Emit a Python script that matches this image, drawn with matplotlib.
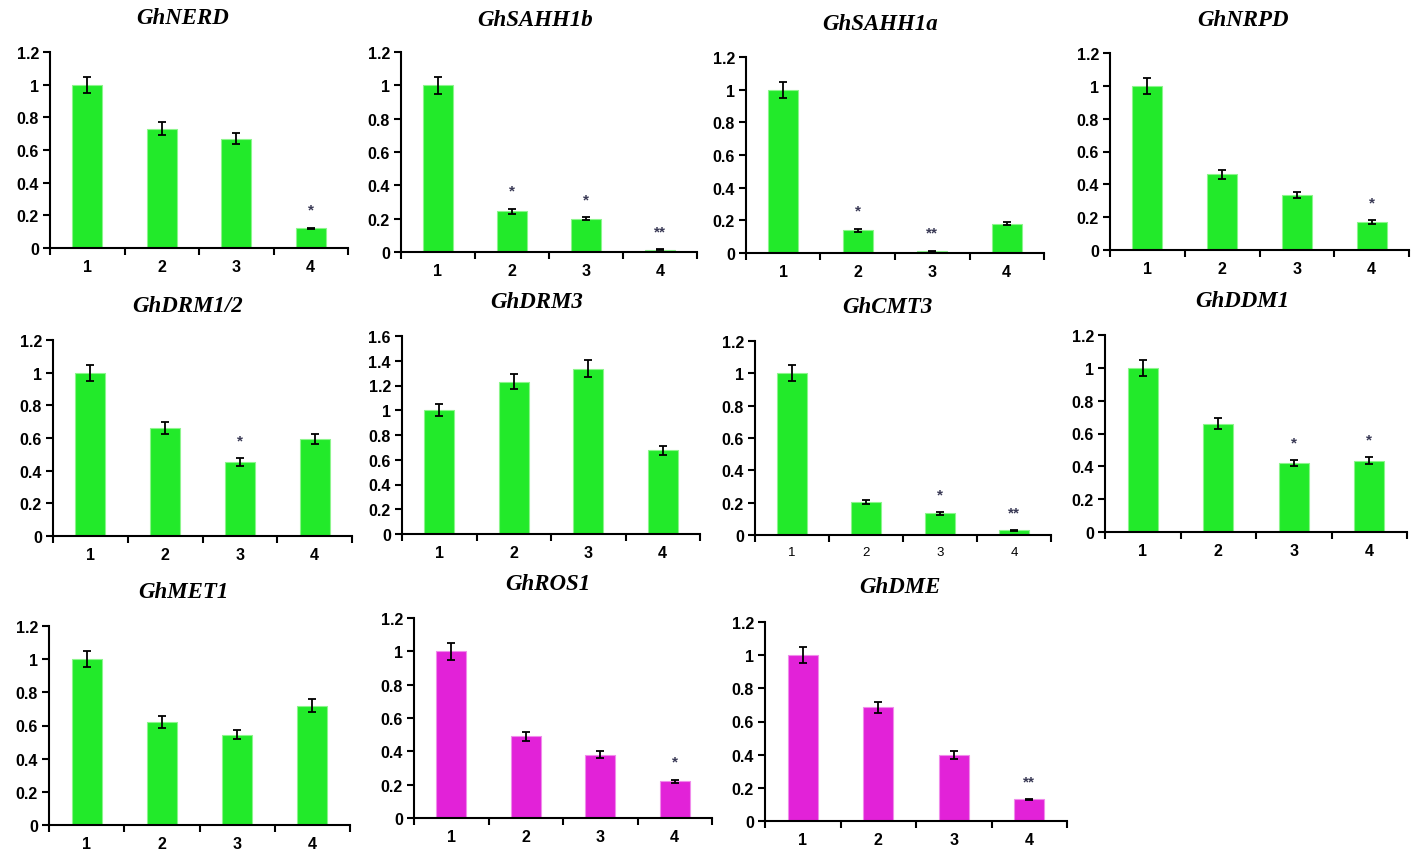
import matplotlib
matplotlib.use("Agg")
import matplotlib.pyplot as plt
from matplotlib.ticker import FixedLocator, FuncFormatter

# gene panels, in reading order
genes = ["GhNERD", "GhSAHH1b", "GhSAHH1a", "GhNRPD",
         "GhDRM1/2", "GhDRM3", "GhCMT3", "GhDDM1",
         "GhMET1", "GhROS1", "GhDME"]
samples = ["1", "2", "3", "4"]

nerd = [1.0, 0.73, 0.67, 0.12]
nerd_err = [0.05, 0.04, 0.035, 0.005]
sahh1b = [1.0, 0.245, 0.20, 0.015]
sahh1b_err = [0.05, 0.015, 0.01, 0.003]
sahh1a = [1.0, 0.14, 0.012, 0.18]
sahh1a_err = [0.05, 0.01, 0.003, 0.008]
nrpd = [1.0, 0.46, 0.335, 0.17]
nrpd_err = [0.05, 0.025, 0.02, 0.01]
drm12 = [1.0, 0.66, 0.455, 0.595]
drm12_err = [0.05, 0.035, 0.025, 0.03]
drm3 = [1.0, 1.23, 1.335, 0.675]
drm3_err = [0.05, 0.06, 0.07, 0.035]
cmt3 = [1.0, 0.205, 0.135, 0.03]
cmt3_err = [0.05, 0.012, 0.01, 0.003]
ddm1 = [1.0, 0.66, 0.42, 0.435]
ddm1_err = [0.05, 0.035, 0.02, 0.02]
met1 = [1.0, 0.62, 0.545, 0.72]
met1_err = [0.05, 0.035, 0.025, 0.04]
ros1 = [1.0, 0.49, 0.38, 0.22]
ros1_err = [0.05, 0.025, 0.02, 0.01]
dme = [1.0, 0.685, 0.40, 0.13]
dme_err = [0.05, 0.035, 0.025, 0.004]

values = [nerd, sahh1b, sahh1a, nrpd, drm12, drm3, cmt3, ddm1, met1, ros1, dme]
errors = [nerd_err, sahh1b_err, sahh1a_err, nrpd_err, drm12_err, drm3_err,
          cmt3_err, ddm1_err, met1_err, ros1_err, dme_err]
stars = [["", "", "", "*"], ["", "*", "*", "**"], ["", "*", "**", ""],
         ["", "", "", "*"], ["", "", "*", ""], ["", "", "", ""],
         ["", "", "*", "**"], ["", "", "*", "*"], ["", "", "", ""],
         ["", "", "", "*"], ["", "", "", "**"]]
ymax = [1.2, 1.2, 1.2, 1.2, 1.2, 1.6, 1.2, 1.2, 1.2, 1.2, 1.2]
ystep = [0.2] * 11

GREEN = "#22EA2A"
MAGENTA = "#E222D8"
colors = [GREEN] * 9 + [MAGENTA] * 2
edges = ["#8CF58C"] * 9 + ["#F08CEB"] * 2

# axes boxes in pixels: left, right, top, bottom ; title centre x, y
W, H = 1418, 854
boxes = [(50, 348, 53, 249), (401, 697, 53, 253), (746, 1044, 58, 254), (1110, 1409, 54, 251),
         (53, 352, 341, 537), (402, 700, 337, 535), (755, 1051, 342, 536), (1105, 1407, 336, 533),
         (49, 350, 627, 826), (414, 712, 619, 819), (765, 1067, 623, 822)]
titles_xy = [(183, 18), (535, 20), (880, 25), (1243, 21),
             (188, 307), (537, 303), (887, 308), (1242, 302),
             (183, 592), (548, 585), (900, 588)]

fig = plt.figure(figsize=(W / 100, H / 100), dpi=100)

for i, gene in enumerate(genes):
    l, r, t, b = boxes[i]
    ax = fig.add_axes([l / W, 1 - b / H, (r - l) / W, (b - t) / H])
    x = list(range(4))
    ax.bar(x, values[i], width=0.4, color=colors[i], edgecolor=edges[i], linewidth=0.8, zorder=2)
    ax.errorbar(x, values[i], yerr=errors[i], fmt="none", ecolor="black",
                elinewidth=1.3, capsize=3.2, capthick=1.3, zorder=3)
    for xi, v, e, s in zip(x, values[i], errors[i], stars[i]):
        if s:
            ax.text(xi, v + e + 0.065 * ymax[i] / 1.2, s, ha="center", va="bottom",
                    fontsize=11, color="#3a3a56", fontweight="bold", family="Liberation Sans")
    ax.set_xlim(-0.5, 3.5)
    ax.set_ylim(0, ymax[i])
    n = int(round(ymax[i] / ystep[i]))
    ax.yaxis.set_major_locator(FixedLocator([k * ystep[i] for k in range(n + 1)]))
    ax.yaxis.set_major_formatter(FuncFormatter(lambda v, p: "%g" % round(v, 2)))
    ax.xaxis.set_major_locator(FixedLocator([-0.5, 0.5, 1.5, 2.5, 3.5]))
    ax.xaxis.set_major_formatter(FuncFormatter(lambda v, p: ""))
    ax.xaxis.set_minor_locator(FixedLocator(x))
    ax.set_xticklabels(samples, minor=True)
    for side in ["top", "right"]:
        ax.spines[side].set_visible(False)
    for side in ["left", "bottom"]:
        ax.spines[side].set_linewidth(1.5)
    ax.tick_params(axis="both", which="major", direction="out", length=5, width=1.5)
    ax.tick_params(axis="x", which="minor", length=0, pad=8)
    ax.tick_params(axis="y", pad=3)
    for lab in ax.get_yticklabels():
        lab.set_fontsize(11.5)
        lab.set_fontweight("bold")
        lab.set_family("Liberation Sans")
    for lab in ax.get_xticklabels(minor=True):
        lab.set_family("Liberation Sans")
        if gene == "GhCMT3":
            lab.set_fontsize(9.5)
        else:
            lab.set_fontsize(11.5)
            lab.set_fontweight("bold")
    tx, ty = titles_xy[i]
    fig.text(tx / W, 1 - ty / H, gene, ha="center", va="center", fontsize=16.5,
             fontweight="bold", fontstyle="italic", family="Liberation Serif")

fig.savefig("out.png", dpi=100, facecolor="white")
